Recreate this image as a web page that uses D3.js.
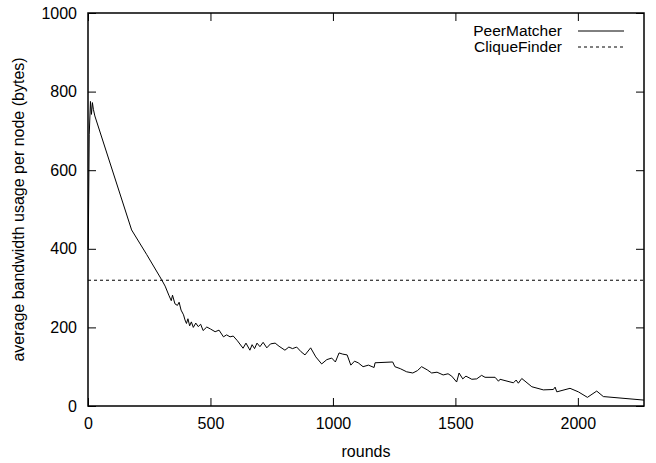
<!DOCTYPE html>
<html>
<head>
<meta charset="utf-8">
<script src="https://cdn.jsdelivr.net/npm/d3@7"></script>
<style>
  body { margin: 0; background: #fff; }
  svg { display: block; font-family: "Liberation Sans", Arial, sans-serif; }
</style>
</head>
<body>
<div id="chart"></div>
<script>
// PeerMatcher: rounds vs average bandwidth (bytes)
var peerRounds = [1, 5, 10, 14, 18, 22, 28, 178, 240, 300, 315, 330, 340, 345, 355, 365, 372, 380, 390, 396,
  402, 408, 415, 422, 430, 440, 450, 460, 470, 485, 500, 519, 535, 553, 566, 580, 593, 610, 633, 645,
  661, 670, 680, 690, 702, 715, 730, 745, 764, 780, 804, 820, 835, 852, 870, 886, 909, 930, 954, 975,
  995, 1010, 1025, 1040, 1058, 1073, 1088, 1103, 1123, 1145, 1168, 1172, 1244, 1253, 1275, 1301, 1326, 1345, 1362, 1385,
  1403, 1425, 1450, 1470, 1485, 1505, 1515, 1530, 1543, 1567, 1587, 1607, 1621, 1662, 1676, 1682, 1737, 1748, 1757, 1771,
  1812, 1859, 1900, 1907, 1914, 1968, 2002, 2039, 2077, 2104, 2270];
var peerBytes = [400, 690, 775, 742, 772, 755, 738, 448, 385, 322, 305, 282, 268, 282, 260, 256, 264, 244, 232, 219,
  210, 222, 204, 214, 200, 211, 202, 208, 192, 201, 196, 189, 193, 176, 181, 176, 178, 166, 147, 160,
  142, 156, 146, 160, 151, 162, 148, 158, 160, 152, 142, 150, 146, 150, 138, 130, 148, 125, 107, 118,
  122, 112, 135, 132, 130, 104, 114, 110, 100, 104, 98, 110, 112, 100, 95, 87, 84, 90, 100, 92,
  84, 86, 79, 82, 76, 61, 84, 69, 76, 68, 69, 78, 73, 73, 63, 68, 59, 66, 58, 70,
  49, 41, 42, 48, 36, 45, 36, 22, 38, 24, 15];
// CliqueFinder is constant
var cliqueBytes = 320;

var xTicks = [0, 500, 1000, 1500, 2000];
var yTicks = [0, 200, 400, 600, 800, 1000];
var seriesNames = ["PeerMatcher", "CliqueFinder"];

var width = 656, height = 463;
var margin = {top: 13, right: 12, bottom: 57, left: 88};

var svg = d3.select("#chart").append("svg")
  .attr("width", width)
  .attr("height", height);

var x = d3.scaleLinear()
  .domain([0, 2270])
  .range([margin.left, width - margin.right]);

var y = d3.scaleLinear()
  .domain([0, 1000])
  .range([height - margin.bottom, margin.top]);

var data = peerRounds.map(function(r, i) { return {r: r, v: peerBytes[i]}; });

// axes with inward ticks, mirrored on top and right
svg.append("g")
  .attr("transform", "translate(0," + y(0) + ")")
  .call(d3.axisBottom(x).tickValues(xTicks).tickFormat(d3.format("d")).tickSize(-8).tickPadding(12).tickSizeOuter(0))
  .call(g => g.select(".domain").remove());

svg.append("g")
  .attr("transform", "translate(0," + y(1000) + ")")
  .call(d3.axisTop(x).tickValues(xTicks).tickSize(-8).tickFormat("").tickSizeOuter(0))
  .call(g => g.select(".domain").remove());

svg.append("g")
  .attr("transform", "translate(" + x(0) + ",0)")
  .call(d3.axisLeft(y).tickValues(yTicks).tickFormat(d3.format("d")).tickSize(-8).tickPadding(11).tickSizeOuter(0))
  .call(g => g.select(".domain").remove());

svg.append("g")
  .attr("transform", "translate(" + x(2270) + ",0)")
  .call(d3.axisRight(y).tickValues(yTicks).tickSize(-8).tickFormat("").tickSizeOuter(0))
  .call(g => g.select(".domain").remove());

svg.selectAll(".tick line").attr("stroke", "#000").attr("stroke-width", 1);
svg.selectAll(".tick text").attr("fill", "#000").style("font-size", "16px")
  .style("font-family", "'Liberation Sans', Arial, sans-serif");

// CliqueFinder dashed line
svg.append("line")
  .attr("x1", x(0)).attr("x2", x(2270))
  .attr("y1", y(cliqueBytes)).attr("y2", y(cliqueBytes))
  .attr("stroke", "#000")
  .attr("stroke-width", 1)
  .attr("stroke-dasharray", "3,3");

// PeerMatcher line
var line = d3.line()
  .x(d => x(d.r))
  .y(d => y(d.v));

svg.append("path")
  .datum(data)
  .attr("fill", "none")
  .attr("stroke", "#000")
  .attr("stroke-width", 1)
  .attr("stroke-linejoin", "round")
  .attr("d", line);

// frame
svg.append("rect")
  .attr("x", x(0)).attr("y", y(1000))
  .attr("width", x(2270) - x(0))
  .attr("height", y(0) - y(1000))
  .attr("fill", "none")
  .attr("stroke", "#000")
  .attr("stroke-width", 1.5);

// legend
seriesNames.forEach(function(name, i) {
  var ly = 31 + i * 16;
  svg.append("text")
    .attr("x", 562).attr("y", ly + 5)
    .attr("text-anchor", "end")
    .style("font-size", "15.5px")
    .text(name);
  svg.append("line")
    .attr("x1", 578).attr("x2", 624)
    .attr("y1", ly).attr("y2", ly)
    .attr("stroke", "#000")
    .attr("stroke-width", 1)
    .attr("stroke-dasharray", i === 1 ? "3,3" : null);
});

// axis titles
svg.append("text")
  .attr("x", (x(0) + x(2270)) / 2)
  .attr("y", 457)
  .attr("text-anchor", "middle")
  .style("font-size", "16px")
  .text("rounds");

svg.append("text")
  .attr("transform", "translate(24," + (y(500)) + ") rotate(-90)")
  .attr("text-anchor", "middle")
  .style("font-size", "16px")
  .text("average bandwidth usage per node (bytes)");
</script>
</body>
</html>
